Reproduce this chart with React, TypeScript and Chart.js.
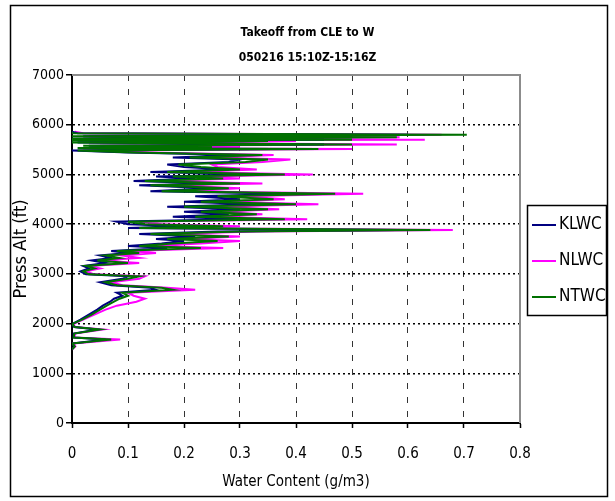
import React, { useEffect, useRef } from 'react';
import { Chart, registerables } from 'chart.js';

Chart.register(...registerables);

const FONT = "'Liberation Sans Narrow', 'Arial Narrow', 'DejaVu Sans Condensed', sans-serif";

const TITLE = ['Takeoff from CLE to W', '050216 15:10Z-15:16Z'];
const X_TITLE = 'Water Content (g/m3)';
const Y_TITLE = 'Press Alt (ft)';
const SERIES_NAMES = ['KLWC', 'NLWC', 'NTWC'];
const SERIES_COLORS = ['#000080', '#ff00ff', '#007000'];
const X_TICKS = ['0', '0.1', '0.2', '0.3', '0.4', '0.5', '0.6', '0.7', '0.8'];
const Y_TICKS = ['0', '1000', '2000', '3000', '4000', '5000', '6000', '7000'];

// Pressure altitude (ft) of each sample
const ALT = [
  1480, 1540, 1600, 1680, 1720, 1800, 1880, 1930, 1990, 2080,
  2180, 2280, 2360, 2440, 2500, 2560, 2620, 2680, 2720, 2770,
  2830, 2900, 2950, 2990, 3050, 3110, 3160, 3220, 3270, 3320,
  3370, 3420, 3460, 3520, 3560, 3610, 3660, 3700, 3750, 3800,
  3850, 3880, 3920, 3960, 4000, 4050, 4100, 4150, 4200, 4250,
  4300, 4350, 4400, 4450, 4500, 4560, 4610, 4660, 4720, 4780,
  4820, 4870, 4920, 4960, 5000, 5050, 5100, 5150, 5200, 5250,
  5300, 5340, 5390, 5440, 5480, 5510, 5530, 5550, 5575, 5600,
  5640, 5670, 5685, 5700, 5720, 5750, 5770, 5800, 5830, 5860,
];

// Water content (g/m3)
const KLWC = [
  0, 0.004, 0, 0.06, 0.002, 0.003, 0.045, 0.004, 0, 0.015,
  0.03, 0.045, 0.055, 0.068, 0.075, 0.09, 0.08, 0.15, 0.14, 0.07,
  0.05, 0.09, 0.1, 0.025, 0.015, 0.03, 0.02, 0.06, 0.035, 0.07,
  0.05, 0.1, 0.07, 0.17, 0.1, 0.16, 0.2, 0.15, 0.22, 0.12,
  0.26, 0.58, 0.1, 0.2, 0.1, 0.08, 0.3, 0.18, 0.28, 0.2,
  0.3, 0.17, 0.33, 0.2, 0.3, 0.22, 0.4, 0.14, 0.25, 0.12,
  0.26, 0.11, 0.22, 0.15, 0.33, 0.14, 0.28, 0.2, 0.17, 0.28,
  0.3, 0.18, 0.3, 0.1, 0.0, 0.36, 0.02, 0.22, 0.03, 0.45,
  0.01, 0.3, 0.0, 0.45, 0.0, 0.5, 0.02, 0.6, 0.01, 0.0,
];

const NLWC = [
  0, 0.006, 0.002, 0.086, 0.004, 0.005, 0.055, 0.006, 0.002, 0.02,
  0.04, 0.06, 0.08, 0.115, 0.13, 0.11, 0.1, 0.22, 0.17, 0.09,
  0.07, 0.12, 0.13, 0.04, 0.025, 0.05, 0.03, 0.12, 0.05, 0.12,
  0.09, 0.15, 0.1, 0.27, 0.14, 0.23, 0.3, 0.2, 0.3, 0.17,
  0.33, 0.68, 0.14, 0.3, 0.16, 0.12, 0.42, 0.25, 0.34, 0.26,
  0.37, 0.25, 0.44, 0.27, 0.38, 0.3, 0.52, 0.2, 0.3, 0.17,
  0.34, 0.15, 0.3, 0.22, 0.43, 0.2, 0.33, 0.26, 0.25, 0.34,
  0.39, 0.25, 0.36, 0.14, 0.02, 0.5, 0.03, 0.3, 0.05, 0.58,
  0.03, 0.4, 0.02, 0.63, 0.02, 0.585, 0.03, 0.66, 0.02, 0.005,
];

const NTWC = [
  0, 0.005, 0, 0.07, 0.003, 0.004, 0.05, 0.005, 0, 0.018,
  0.035, 0.05, 0.062, 0.075, 0.085, 0.1, 0.09, 0.18, 0.16, 0.08,
  0.06, 0.1, 0.12, 0.03, 0.02, 0.04, 0.025, 0.1, 0.045, 0.085,
  0.06, 0.12, 0.08, 0.23, 0.12, 0.18, 0.26, 0.17, 0.28, 0.14,
  0.3, 0.64, 0.12, 0.27, 0.13, 0.1, 0.38, 0.22, 0.33, 0.23,
  0.35, 0.2, 0.4, 0.23, 0.36, 0.26, 0.47, 0.16, 0.28, 0.14,
  0.3, 0.13, 0.27, 0.18, 0.38, 0.17, 0.3, 0.23, 0.19, 0.31,
  0.35, 0.21, 0.34, 0.11, 0.01, 0.44, 0.01, 0.25, 0.02, 0.5,
  0.0, 0.35, 0.0, 0.5, 0.0, 0.58, 0.0, 0.705, 0.0, 0.0,
];

const SERIES_VALUES = [KLWC, NLWC, NTWC];
const SERIES_ORDER = [1, 2, 0];

const framePlugin = {
  id: 'frame',
  beforeDraw(chart: any) {
    const ctx = chart.ctx;
    ctx.save();
    ctx.fillStyle = '#ffffff';
    ctx.fillRect(0, 0, chart.width, chart.height);
    ctx.strokeStyle = '#000000';
    ctx.lineWidth = 1.5;
    ctx.strokeRect(10.5, 5.5, 597, 491);
    ctx.restore();
  },
  beforeDatasetsDraw(chart: any) {
    const { left, top, right, bottom } = chart.chartArea;
    const ctx = chart.ctx;
    ctx.save();
    ctx.strokeStyle = '#8c8c8c';
    ctx.lineWidth = 2;
    ctx.beginPath();
    ctx.moveTo(left, top);
    ctx.lineTo(right, top);
    ctx.lineTo(right, bottom);
    ctx.stroke();
    ctx.restore();
  },
  afterDraw(chart: any) {
    const ctx = chart.ctx;
    const bx = 527.5;
    const by = 205.5;
    const bw = 79;
    const bh = 110;
    ctx.save();
    ctx.fillStyle = '#ffffff';
    ctx.fillRect(bx, by, bw, bh);
    ctx.strokeStyle = '#000000';
    ctx.lineWidth = 1.5;
    ctx.strokeRect(bx, by, bw, bh);
    ctx.font = `17px ${FONT}`;
    ctx.textBaseline = 'middle';
    ctx.textAlign = 'left';
    chart.data.datasets.forEach((ds: any, i: number) => {
      const y = 225 + i * 36;
      ctx.strokeStyle = ds.borderColor;
      ctx.lineWidth = 2;
      ctx.beginPath();
      ctx.moveTo(532, y);
      ctx.lineTo(556, y);
      ctx.stroke();
      ctx.fillStyle = '#000000';
      ctx.fillText(ds.label, 559, y);
    });
    ctx.restore();
  },
};

export default function App() {
  const canvasRef = useRef<HTMLCanvasElement | null>(null);

  useEffect(() => {
    if (!canvasRef.current) return;
    const datasets = SERIES_NAMES.map((name, s) => ({
      label: name,
      data: ALT.map((a, i) => ({ x: SERIES_VALUES[s][i], y: a })),
      borderColor: SERIES_COLORS[s],
      backgroundColor: SERIES_COLORS[s],
      borderWidth: 2,
      pointRadius: 0,
      showLine: true,
      tension: 0,
      order: SERIES_ORDER[s],
    }));

    const chart = new Chart(canvasRef.current, {
      type: 'scatter',
      data: { datasets },
      plugins: [framePlugin],
      options: {
        animation: false,
        responsive: false,
        maintainAspectRatio: false,
        layout: { padding: 0 },
        plugins: {
          legend: { display: false },
          tooltip: { enabled: false },
          title: {
            display: true,
            text: TITLE,
            color: '#000000',
            font: { family: FONT, size: 12, weight: 'bold', lineHeight: 25 / 12 },
            padding: { top: 20.5, bottom: 4.5 },
          },
        },
        scales: {
          x: {
            type: 'linear',
            position: 'bottom',
            min: 0,
            max: 0.8,
            ticks: {
              stepSize: 0.1,
              autoSkip: false,
              maxRotation: 0,
              padding: 17,
              color: '#000000',
              font: { family: FONT, size: 15 },
              callback: (_v: any, i: number) => X_TICKS[i],
            },
            grid: {
              color: '#333333',
              lineWidth: 1,
              tickLength: 5,
              tickColor: '#000000',
              tickWidth: 1.5,
            },
            border: { display: true, color: '#000000', width: 2, dash: [6, 8] },
            title: {
              display: true,
              text: X_TITLE,
              color: '#000000',
              font: { family: FONT, size: 15, lineHeight: 1.2 },
              padding: { top: 0, bottom: 10 },
            },
            afterFit: (s: any) => {
              s.height = 78;
            },
          },
          y: {
            type: 'linear',
            position: 'left',
            min: 0,
            max: 7000,
            ticks: {
              stepSize: 1000,
              padding: 2,
              color: '#000000',
              font: { family: FONT, size: 14 },
              callback: (_v: any, i: number) => Y_TICKS[i],
            },
            grid: {
              color: '#000000',
              lineWidth: 1.5,
              tickLength: 6,
              tickColor: '#000000',
              tickWidth: 1.5,
            },
            border: { display: true, color: '#000000', width: 2, dash: [2, 3] },
            title: {
              display: true,
              text: Y_TITLE,
              color: '#000000',
              font: { family: FONT, size: 18, lineHeight: 1.2 },
              padding: { top: 11, bottom: 0 },
            },
            afterFit: (s: any) => {
              s.width = 72;
            },
          },
          y2: {
            type: 'linear',
            position: 'right',
            display: true,
            grid: { display: false },
            ticks: { display: false },
            border: { display: false },
            afterFit: (s: any) => {
              s.width = 95;
            },
          },
        },
      } as any,
    });

    return () => chart.destroy();
  }, []);

  return (
    <div style={{ position: 'absolute', left: 0, top: 0, width: 615, height: 501, background: '#ffffff' }}>
      <canvas ref={canvasRef} width={615} height={501} style={{ display: 'block' }} />
    </div>
  );
}
